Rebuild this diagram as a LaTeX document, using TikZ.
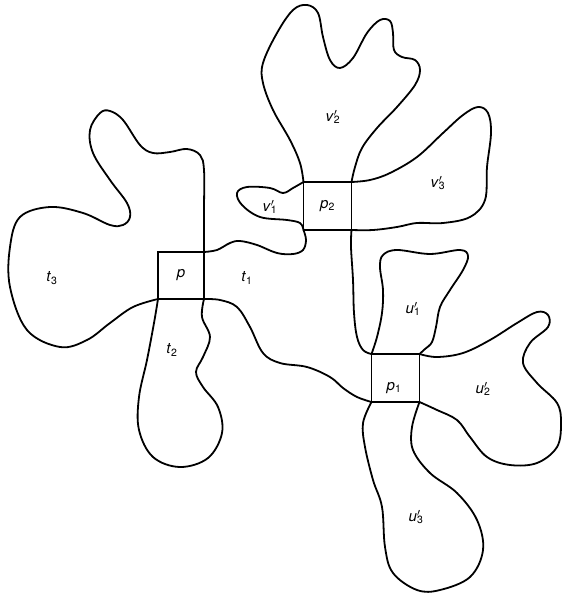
\documentclass[tikz,border=0pt]{standalone}
\usepackage{fontspec}
\setmainfont{TeX Gyre Heros}
\tikzset{
  edge/.style={line width=1.8pt, line join=round, line cap=round},
  pin/.style={draw, line width=1.8pt, inner sep=0pt, outer sep=0pt,
              minimum width=48pt, minimum height=48pt, font=\fontsize{15}{17}\selectfont},
  face/.style={inner sep=0pt, font=\fontsize{15}{17}\selectfont},
}
\newcommand{\reg}[2]{\textit{#1}\textsubscript{#2}}
\newcommand{\regp}[2]{\textit{#1}\rlap{$^{\prime}$}\textsubscript{#2}}

\begin{document}
\begin{tikzpicture}[x=1pt,y=-1pt]
\useasboundingbox (0,0) rectangle (563,596);
% the three squares
\node[pin, minimum width=46pt, minimum height=47pt] (p) at (181,275.5) {\textit{p}};
\node[pin] (p2) at (327.5,206) {\reg{p}{2}};
\node[pin] (p1) at (395.5,378) {};
\node[face] (p1l) at (394,388) {\reg{p}{1}};
% faces round p
\draw[edge] plot[smooth, tension=0.6] coordinates {(p.south west) (133,307) (110,323) (87,340)
  (60,347) (27,330) (10,287) (10,247) (20,217) (50,207) (83,213) (110,225) (123,225) (130,217)
  (127,203) (110,180) (93,153) (90,130) (100,113) (110,111) (123,120) (140,145) (153,153)
  (170,152) (187,149) (200,155) (204,170) (204,210) (p.north east)};
\draw[edge] plot[smooth, tension=0.6] coordinates {(p.south west) (154,323) (147,360) (139,397)
  (139,430) (153,457) (180,467) (208,458) (222,433) (218,407) (203,387) (196,372) (203,357)
  (210,337) (202,317) (p.south east)};
\draw[edge] plot[smooth, tension=0.6] coordinates {(p.north east) (217,250) (230,243) (240,241)
  (257,245) (277,253) (293,254) (303,250) (306,240) (p2.south west)};
\draw[edge] plot[smooth, tension=0.6] coordinates {(p.south east) (220,300) (237,307) (250,327)
  (263,353) (280,363) (307,367) (330,377) (343,388) (357,397) (p1.south west)};
% faces round p2
\draw[edge] plot[smooth, tension=0.6] coordinates {(p2.north west) (293,188) (283,193) (270,188)
  (247,187) (237,193) (242,205) (260,217) (287,220) (300,223) (p2.south west)};
\draw[edge] plot[smooth, tension=0.6] coordinates {(p2.north west) (300,163) (290,140) (273,110)
  (263,83) (263,63) (277,33) (293,10) (307,5) (318,13) (323,37) (330,60) (340,68) (353,58)
  (367,33) (380,20) (390,21) (393,33) (394,50) (402,57) (415,60) (420,70) (415,85) (397,107)
  (377,128) (362,148) (355,167) (p2.north east)};
\draw[edge] plot[smooth, tension=0.6] coordinates {(p2.north east) (370,180) (390,173) (417,157)
  (443,133) (463,115) (478,107) (488,113) (491,133) (487,167) (485,200) (470,217) (443,223)
  (417,223) (397,227) (373,230) (p2.south east)};
\draw[edge] plot[smooth, tension=0.6] coordinates {(p2.south east) (351,247) (353,280) (354,313)
  (357,337) (363,350) (p1.north west)};
% faces round p1
\draw[edge] plot[smooth, tension=0.6] coordinates {(p1.north west) (377,337) (382,313) (383,290)
  (380,267) (383,255) (397,250) (430,254) (460,250) (468,256) (463,270) (450,290) (440,307)
  (436,327) (432,342) (425,349) (p1.north east)};
\draw[edge] plot[smooth, tension=0.6] coordinates {(p1.north east) (437,357) (463,353) (490,340)
  (517,323) (537,312) (548,315) (548,327) (530,343) (523,363) (537,383) (557,403) (561,423)
  (557,447) (537,463) (510,465) (487,457) (470,437) (457,420) (437,410) (p1.south east)};
\draw[edge] plot[smooth, tension=0.6] coordinates {(p1.south west) (363,423) (365,447) (373,480)
  (382,507) (385,547) (393,573) (417,590) (440,590) (470,577) (483,550) (477,520) (457,493)
  (430,473) (413,450) (412,427) (p1.south east)};
% face labels
\node[face] (t3) at (52,278) {\reg{t}{3}};
\node[face] (t1) at (247,278) {\reg{t}{1}};
\node[face] (t2) at (172,350) {\reg{t}{2}};
\node[face] (v1) at (270,207) {\regp{v}{1}};
\node[face] (v2) at (333,117) {\regp{v}{2}};
\node[face] (v3) at (438,183) {\regp{v}{3}};
\node[face] (u1) at (413,309) {\regp{u}{1}};
\node[face] (u2) at (483,389) {\regp{u}{2}};
\node[face] (u3) at (416,517) {\regp{u}{3}};
\end{tikzpicture}
\end{document}
